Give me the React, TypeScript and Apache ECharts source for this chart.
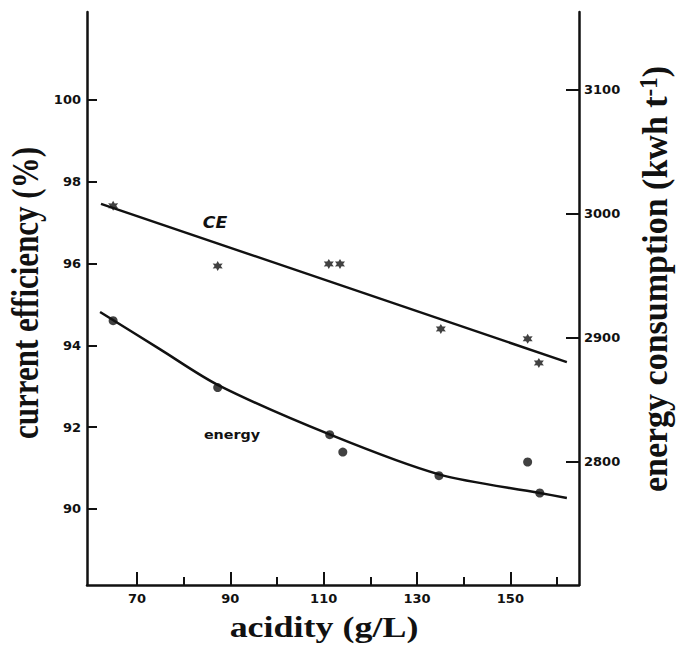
import React, { useEffect, useRef } from "react";
import * as echarts from "echarts";

// ---- data ----
const ceAcidity = [64.9, 87.3, 111.1, 113.5, 135.1, 153.7, 156.1];
const ceValues = [97.41, 95.94, 95.99, 95.99, 94.4, 94.16, 93.57];
const ceFitAcidity = [62.3, 162.1];
const ceFitValues = [97.46, 93.59];

const energyAcidity = [64.9, 87.3, 111.3, 114.1, 134.7, 153.7, 156.3];
const energyValues = [2914, 2860, 2822, 2808, 2789, 2800, 2775];
const energyFitAcidity = [62.1, 74.9, 87.4, 111.4, 134.7, 156.3, 162.1];
const energyFitValues = [2921, 2891, 2862, 2822, 2790, 2775, 2771];

const xMajorTicks = [70, 90, 110, 130, 150];
const xMinorTicks = [80, 100, 120, 140, 160];
const ceTicks = [90, 92, 94, 96, 98, 100];
const energyTicks = [2800, 2900, 3000, 3100];

const STAR =
  "path://M10 0 L12.7 5.3 L18.66 5 L15.4 10 L18.66 15 L12.7 14.7 L10 20 L7.3 14.7 L1.34 15 L4.6 10 L1.34 5 L7.3 5.3 Z";

const INK = "#111";
const tickFont = {
  fontFamily: "DejaVu Sans",
  fontWeight: "bold",
  fontSize: 13,
  color: INK,
  formatter: (v: number) => String(v),
} as const;

export default function App() {
  const ref = useRef<HTMLDivElement>(null);
  useEffect(() => {
    document.body.style.margin = "0";
    const chart = echarts.init(ref.current!, null, { renderer: "svg" });
    const zip = (a: number[], b: number[]) => a.map((v, i) => [v, b[i]]);
    chart.setOption({
      animation: false,
      backgroundColor: "#fff",
      grid: { left: 87, top: 12, width: 492, height: 573, containLabel: false },
      xAxis: [
        {
          type: "value",
          min: 59.3,
          max: 164.7,
          position: "bottom",
          axisLine: { show: true, lineStyle: { color: INK, width: 2.5 } },
          axisTick: { show: true, inside: true, length: 13, customValues: xMajorTicks, lineStyle: { color: INK, width: 2 } },
          axisLabel: { ...tickFont, margin: 7, customValues: xMajorTicks },
          splitLine: { show: false },
        },
        {
          type: "value",
          min: 59.3,
          max: 164.7,
          position: "bottom",
          axisLine: { show: false },
          axisTick: { show: true, inside: true, length: 8, customValues: xMinorTicks, lineStyle: { color: INK, width: 2 } },
          axisLabel: { show: false },
          splitLine: { show: false },
        },
      ],
      yAxis: [
        {
          type: "value",
          min: 88.14,
          max: 102.15,
          position: "left",
          axisLine: { show: true, lineStyle: { color: INK, width: 2.5 } },
          axisTick: { show: true, inside: true, length: 10, customValues: ceTicks, lineStyle: { color: INK, width: 2 } },
          axisLabel: { ...tickFont, margin: 6, customValues: ceTicks },
          splitLine: { show: false },
        },
        {
          type: "value",
          min: 2700.8,
          max: 3162.9,
          position: "right",
          axisLine: { show: true, lineStyle: { color: INK, width: 2.5 } },
          axisTick: { show: true, inside: true, length: 13, customValues: energyTicks, lineStyle: { color: INK, width: 2 } },
          axisLabel: { ...tickFont, margin: 5, customValues: energyTicks },
          splitLine: { show: false },
        },
      ],
      series: [
        {
          name: "CE fit",
          type: "line",
          xAxisIndex: 0,
          yAxisIndex: 0,
          data: zip(ceFitAcidity, ceFitValues),
          showSymbol: false,
          lineStyle: { color: INK, width: 2.5 },
          silent: true,
        },
        {
          name: "CE",
          type: "scatter",
          xAxisIndex: 0,
          yAxisIndex: 0,
          data: zip(ceAcidity, ceValues),
          symbol: STAR,
          symbolSize: 10,
          itemStyle: { color: INK },
        },
        {
          name: "energy fit",
          type: "line",
          xAxisIndex: 0,
          yAxisIndex: 1,
          data: zip(energyFitAcidity, energyFitValues),
          smooth: 0.3,
          showSymbol: false,
          lineStyle: { color: INK, width: 2.5 },
          silent: true,
        },
        {
          name: "energy",
          type: "scatter",
          xAxisIndex: 0,
          yAxisIndex: 1,
          data: zip(energyAcidity, energyValues),
          symbol: "circle",
          symbolSize: 9,
          itemStyle: { color: INK },
        },
      ],
      graphic: [
        {
          type: "text",
          x: 324,
          y: 627,
          scaleX: 1.24,
          style: {
            text: "acidity (g/L)",
            font: 'bold 29px "Liberation Serif"',
            fill: INK,
            align: "center",
            verticalAlign: "middle",
          },
        },
        {
          type: "text",
          x: 25,
          y: 293,
          rotation: Math.PI / 2,
          scaleY: 1.2,
          style: {
            text: "current efficiency (%)",
            font: 'bold 31px "Liberation Serif"',
            fill: INK,
            align: "center",
            verticalAlign: "middle",
          },
        },
        {
          type: "text",
          x: 655,
          y: 279,
          rotation: Math.PI / 2,
          scaleY: 1.05,
          style: {
            text: "energy consumption (kwh t{sup|-1})",
            font: 'bold 34px "Liberation Serif"',
            fill: INK,
            align: "center",
            verticalAlign: "middle",
            rich: {
              sup: {
                font: 'bold 23px "Liberation Serif"',
                fill: INK,
                verticalAlign: "top",
              },
            },
          },
        },
        {
          type: "text",
          x: 215,
          y: 223,
          scaleX: 1.15,
          style: {
            text: "CE",
            font: 'italic bold 15px "DejaVu Sans"',
            fill: INK,
            align: "center",
            verticalAlign: "middle",
          },
        },
        {
          type: "text",
          x: 232,
          y: 434,
          scaleX: 1.1,
          style: {
            text: "energy",
            font: 'bold 13px "DejaVu Sans"',
            fill: INK,
            align: "center",
            verticalAlign: "middle",
          },
        },
      ],
    });
    return () => chart.dispose();
  }, []);
  return (
    <div
      ref={ref}
      style={{ position: "absolute", left: 0, top: 0, width: 677, height: 647, background: "#fff" }}
    />
  );
}
